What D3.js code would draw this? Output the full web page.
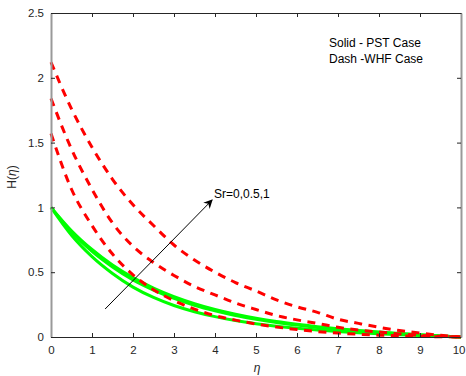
<!DOCTYPE html>
<html>
<head>
<meta charset="utf-8">
<script src="https://cdn.jsdelivr.net/npm/d3@7"></script>
<style>
  html, body { margin: 0; padding: 0; background: #fff; }
  svg { display: block; font-family: "Liberation Sans", Arial, sans-serif; }
</style>
</head>
<body>
<svg id="chart" width="466" height="376"></svg>
<script>
// Similarity variable eta
const eta = [0, 0.5, 1, 1.5, 2, 2.5, 3, 3.5, 4, 4.5, 5, 5.5, 6, 6.5, 7, 7.5, 8, 8.5, 9, 9.5, 10];

// Concentration profiles H(eta) for Sr = 0, 0.5, 1
// PST case (solid)
const pstSr0  = [1, 0.785, 0.62, 0.49, 0.385, 0.305, 0.243, 0.195, 0.157, 0.127, 0.103, 0.083, 0.067, 0.054, 0.043, 0.033, 0.025, 0.018, 0.011, 0.005, 0];
const pstSr05 = [1, 0.81, 0.66, 0.54, 0.44, 0.362, 0.298, 0.245, 0.202, 0.166, 0.137, 0.112, 0.092, 0.074, 0.059, 0.046, 0.035, 0.025, 0.016, 0.007, 0];
const pstSr1  = [1, 0.82, 0.675, 0.555, 0.458, 0.378, 0.312, 0.258, 0.213, 0.176, 0.145, 0.119, 0.098, 0.08, 0.064, 0.05, 0.038, 0.027, 0.017, 0.008, 0];
// WHF case (dashed)
const whfSr0  = [1.57, 1.14, 0.86, 0.64, 0.48, 0.365, 0.28, 0.215, 0.165, 0.13, 0.1, 0.077, 0.058, 0.042, 0.03, 0.021, 0.014, 0.009, 0.005, 0.002, 0];
const whfSr05 = [1.84, 1.45, 1.14, 0.88, 0.70, 0.575, 0.475, 0.39, 0.325, 0.262, 0.212, 0.166, 0.132, 0.105, 0.075, 0.054, 0.038, 0.024, 0.013, 0.005, 0];
const whfSr1  = [2.12, 1.76, 1.465, 1.217, 1.02, 0.86, 0.71, 0.594, 0.50, 0.42, 0.355, 0.286, 0.233, 0.19, 0.137, 0.105, 0.075, 0.05, 0.03, 0.013, 0];

const xTicks = [0, 1, 2, 3, 4, 5, 6, 7, 8, 9, 10];
const yTicks = [0, 0.5, 1, 1.5, 2, 2.5];

// Arrow indicating increasing Sr (data coordinates)
const arrowFrom = [1.32, 0.216];
const arrowTo = [3.93, 1.057];
const arrowLabel = "Sr=0,0.5,1";
const noteLines = ["Solid - PST Case", "Dash -WHF Case"];

const svg = d3.select("#chart");
const plotLeft = 51, plotRight = 461, plotTop = 13, plotBottom = 337;
const svgWidth = 466;

const x = d3.scaleLinear().domain([0, 10]).range([plotLeft, plotRight]);
const y = d3.scaleLinear().domain([0, 2.5]).range([plotBottom, plotTop]);

const textColor = "#262626";

// Curves
const line = d3.line()
  .x((d, i) => x(eta[i]))
  .y(d => y(d))
  .curve(d3.curveMonotoneX);

const solid = [pstSr0, pstSr05, pstSr1];
const dashed = [whfSr0, whfSr05, whfSr1];

svg.append("g").selectAll("path").data(solid).join("path")
  .attr("d", line)
  .attr("fill", "none")
  .attr("stroke", "#00ff00")
  .attr("stroke-width", 3);

svg.append("g").selectAll("path").data(dashed).join("path")
  .attr("d", line)
  .attr("fill", "none")
  .attr("stroke", "#ff0000")
  .attr("stroke-width", 3)
  .attr("stroke-dasharray", "8,6.5");

// Axes (box with inward ticks)
function styleAxis(g, color, width) {
  g.select(".domain").attr("stroke", color).attr("stroke-width", width);
  g.selectAll(".tick line").attr("stroke", textColor);
  g.selectAll(".tick text").attr("fill", textColor).style("font-size", "11.5px")
    .style("font-family", "Liberation Sans, Arial, sans-serif");
}

const gBottom = svg.append("g").attr("transform", `translate(0,${plotBottom})`)
  .call(d3.axisBottom(x).tickValues(xTicks).tickSizeInner(-4).tickSizeOuter(0).tickPadding(9).tickFormat(d3.format("d")));
styleAxis(gBottom, "#262626", 1);

// Keep the last tick label inside the page edge
gBottom.selectAll(".tick text").each(function () {
  const node = this;
  const box = node.getBBox();
  const tickX = x(d3.select(node.parentNode).datum());
  const overflow = tickX + box.x + box.width - (svgWidth - 1);
  if (overflow > 0) d3.select(node).attr("x", -overflow);
});

const gTop = svg.append("g").attr("transform", `translate(0,${plotTop})`)
  .call(d3.axisTop(x).tickValues(xTicks).tickSizeInner(-4).tickSizeOuter(0).tickFormat(""));
styleAxis(gTop, "#262626", 1);

const gLeft = svg.append("g").attr("transform", `translate(${plotLeft},0)`)
  .call(d3.axisLeft(y).tickValues(yTicks).tickSizeInner(-4).tickSizeOuter(0).tickPadding(7).tickFormat(d => String(d)));
styleAxis(gLeft, "#999999", 2);

const gRight = svg.append("g").attr("transform", `translate(${plotRight},0)`)
  .call(d3.axisRight(y).tickValues(yTicks).tickSizeInner(-4).tickSizeOuter(0).tickFormat(""));
styleAxis(gRight, "#999999", 2);

// Axis titles
svg.append("text")
  .attr("x", (plotLeft + plotRight) / 2 + 1).attr("y", 372)
  .attr("text-anchor", "middle")
  .attr("fill", textColor)
  .style("font-size", "12px").style("font-style", "italic")
  .text("η");

const yTitle = svg.append("text")
  .attr("transform", "translate(16,177) rotate(-90)")
  .attr("text-anchor", "middle")
  .attr("fill", textColor)
  .style("font-size", "12px");
yTitle.append("tspan").text("H(");
yTitle.append("tspan").style("font-style", "italic").text("η");
yTitle.append("tspan").text(")");

// Arrow
svg.append("defs").append("marker")
  .attr("id", "head")
  .attr("viewBox", "0 0 10 10")
  .attr("refX", 9).attr("refY", 5)
  .attr("markerWidth", 9).attr("markerHeight", 9)
  .attr("markerUnits", "userSpaceOnUse")
  .attr("orient", "auto")
  .append("path").attr("d", "M0,0 L10,5 L0,10 L3,5 Z").attr("fill", "#000");

svg.append("line")
  .attr("x1", x(arrowFrom[0])).attr("y1", y(arrowFrom[1]))
  .attr("x2", x(arrowTo[0])).attr("y2", y(arrowTo[1]))
  .attr("stroke", "#000").attr("stroke-width", 1)
  .attr("marker-end", "url(#head)");

svg.append("text")
  .attr("x", 214).attr("y", 198)
  .attr("fill", "#000")
  .style("font-size", "12px")
  .text(arrowLabel);

// Legend note
svg.append("g").selectAll("text").data(noteLines).join("text")
  .attr("x", 329).attr("y", (d, i) => 47 + i * 16)
  .attr("fill", "#000")
  .style("font-size", "12px")
  .text(d => d);
</script>
</body>
</html>
